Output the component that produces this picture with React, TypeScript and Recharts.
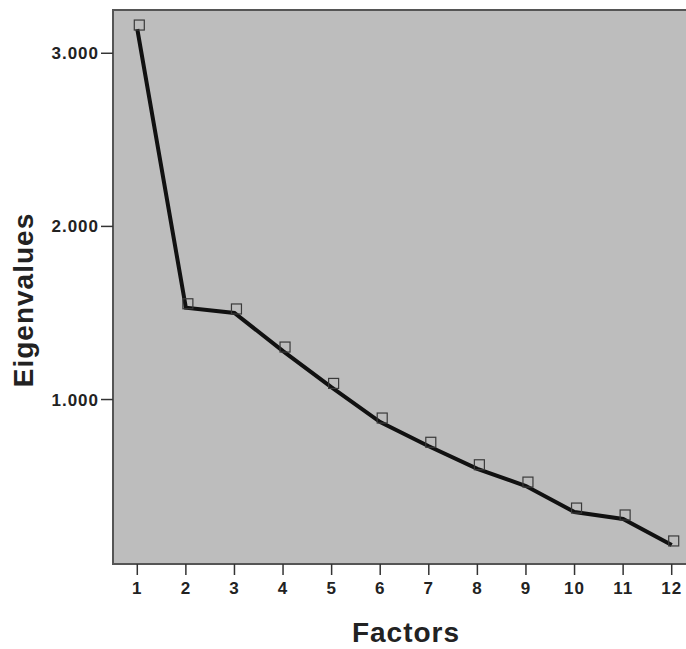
import React from 'react'
import { LineChart, Line, XAxis, YAxis, ReferenceArea } from 'recharts'

const factors = [1, 2, 3, 4, 5, 6, 7, 8, 9, 10, 11, 12]
const eigenvalues = [3.14, 1.53, 1.5, 1.28, 1.07, 0.87, 0.73, 0.6, 0.5, 0.35, 0.31, 0.16]
const yTicks = [1, 2, 3]

const data = factors.map((f, i) => ({ factor: f, value: eigenvalues[i] }))

const font = "'Liberation Sans', Arial, sans-serif"
const tickStyle = { fontSize: 17, fontWeight: 700, fill: '#222', fontFamily: font, letterSpacing: 1 }

// the scan has the square markers printed a little up-right of the line
const SquareDot = (props: any) => {
  const { cx, cy, index } = props
  if (cx == null || cy == null) return null
  return (
    <rect key={index} x={cx + 2 - 5} y={cy - 4 - 5} width={10} height={10}
      fill="none" stroke="#3a3a3a" strokeWidth={1.2} />
  )
}

export default function App() {
  return (
    <div style={{ position: 'fixed', left: 0, top: 0, width: 686, height: 649, overflow: 'hidden', background: '#fff' }}>
      <LineChart width={700} height={649} data={data} margin={{ top: 10, right: 4, bottom: 0, left: 0 }}>
        <XAxis
          dataKey="factor" type="number" domain={[0.5, 12.5]} ticks={factors}
          height={85} axisLine={false} tickSize={11} tickMargin={7}
          tickLine={{ stroke: '#333', strokeWidth: 1.5 }} tick={tickStyle}
          label={() => (
            <text x={406} y={642} textAnchor="middle" fontFamily={font} fontWeight={700}
              fontSize={28} letterSpacing={1} fill="#222">Factors</text>
          )}
        />
        <YAxis
          dataKey="value" type="number" domain={[0.05, 3.25]} ticks={yTicks}
          width={113} axisLine={false} tickSize={12} tickMargin={2}
          tickLine={{ stroke: '#333', strokeWidth: 1.5 }} tick={tickStyle}
          tickFormatter={(v: number) => v.toFixed(3)}
          label={() => (
            <text x={33} y={300} transform="rotate(-90 33 300)" textAnchor="middle" fontFamily={font}
              fontWeight={700} fontSize={28} letterSpacing={1} fill="#222">Eigenvalues</text>
          )}
        />
        <ReferenceArea x1={0.5} x2={12.5} y1={0.05} y2={3.25} fill="#bdbdbd" fillOpacity={1}
          stroke="#555" strokeWidth={2} />
        <Line type="linear" dataKey="value" stroke="#111" strokeWidth={4}
          dot={<SquareDot />} activeDot={false} isAnimationActive={false} />
      </LineChart>
    </div>
  )
}
